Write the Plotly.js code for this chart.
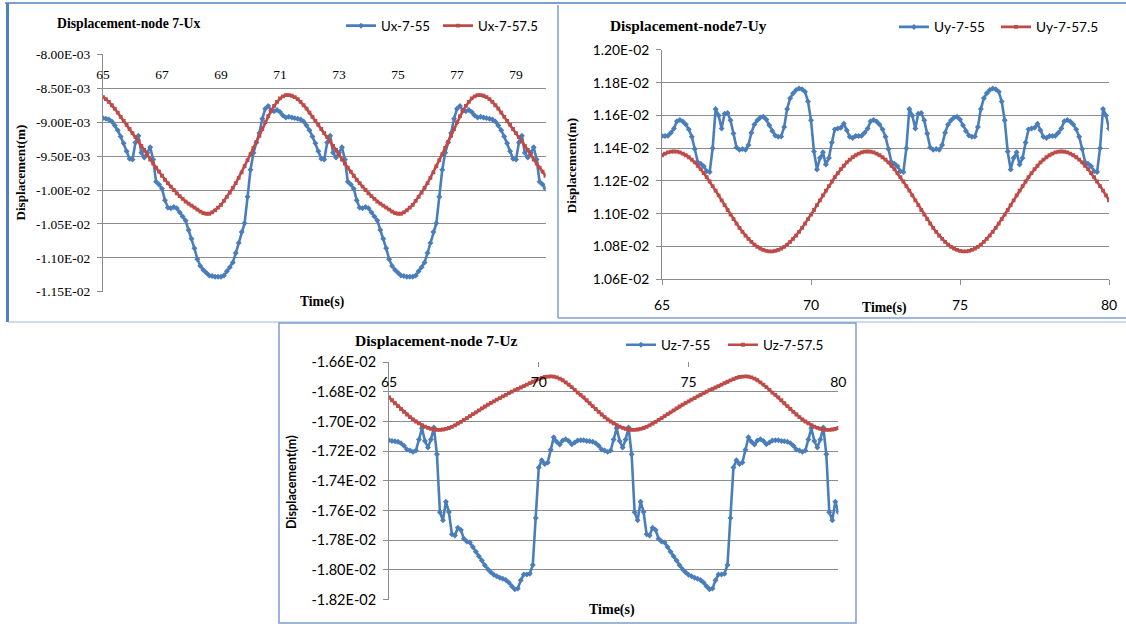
<!DOCTYPE html>
<html>
<head>
<meta charset="utf-8">
<script src="https://cdn.plot.ly/plotly-3.0.1.min.js"></script>
<style>html,body{margin:0;padding:0;background:#fff;}#chart{width:1126px;height:628px;}</style>
</head>
<body>
<div id="chart"></div>
<script>
// ---------------- DATA ----------------
const time = [65.0,65.1,65.2,65.3,65.4,65.5,65.6,65.7,65.8,65.9,66.0,66.1,66.2,66.3,66.4,66.5,66.6,66.7,66.8,66.9,67.0,67.1,67.2,67.3,67.4,67.5,67.6,67.7,67.8,67.9,68.0,68.1,68.2,68.3,68.4,68.5,68.6,68.7,68.8,68.9,69.0,69.1,69.2,69.3,69.4,69.5,69.6,69.7,69.8,69.9,70.0,70.1,70.2,70.3,70.4,70.5,70.6,70.7,70.8,70.9,71.0,71.1,71.2,71.3,71.4,71.5,71.6,71.7,71.8,71.9,72.0,72.1,72.2,72.3,72.4,72.5,72.6,72.7,72.8,72.9,73.0,73.1,73.2,73.3,73.4,73.5,73.6,73.7,73.8,73.9,74.0,74.1,74.2,74.3,74.4,74.5,74.6,74.7,74.8,74.9,75.0,75.1,75.2,75.3,75.4,75.5,75.6,75.7,75.8,75.9,76.0,76.1,76.2,76.3,76.4,76.5,76.6,76.7,76.8,76.9,77.0,77.1,77.2,77.3,77.4,77.5,77.6,77.7,77.8,77.9,78.0,78.1,78.2,78.3,78.4,78.5,78.6,78.7,78.8,78.9,79.0,79.1,79.2,79.3,79.4,79.5,79.6,79.7,79.8,79.9,80.0];

// Ux (units of 1e-3 m)
const ux55 = [-8.94,-8.95,-8.96,-8.99,-9.05,-9.12,-9.21,-9.31,-9.43,-9.54,-9.55,-9.30,-9.20,-9.45,-9.52,-9.45,-9.37,-9.55,-9.88,-9.92,-9.98,-10.15,-10.26,-10.27,-10.25,-10.27,-10.33,-10.39,-10.45,-10.59,-10.72,-10.86,-11.02,-11.12,-11.18,-11.22,-11.26,-11.27,-11.28,-11.28,-11.28,-11.26,-11.20,-11.14,-11.07,-10.93,-10.78,-10.62,-10.49,-10.10,-9.70,-9.45,-9.30,-9.16,-8.95,-8.80,-8.76,-8.83,-8.84,-8.82,-8.85,-8.90,-8.93,-8.92,-8.93,
-8.94,-8.95,-8.96,-8.99,-9.05,-9.12,-9.21,-9.31,-9.43,-9.54,-9.55,-9.30,-9.20,-9.45,-9.52,-9.45,-9.37,-9.55,-9.88,-9.92,-9.98,-10.15,-10.26,-10.27,-10.25,-10.27,-10.33,-10.39,-10.45,-10.59,-10.72,-10.86,-11.02,-11.12,-11.18,-11.22,-11.26,-11.27,-11.28,-11.28,-11.28,-11.26,-11.20,-11.14,-11.07,-10.93,-10.78,-10.62,-10.49,-10.10,-9.70,-9.45,-9.30,-9.16,-8.95,-8.80,-8.76,-8.83,-8.84,-8.82,-8.85,-8.90,-8.93,-8.92,-8.93,
-8.94,-8.95,-8.96,-8.99,-9.05,-9.12,-9.21,-9.31,-9.43,-9.54,-9.55,-9.30,-9.20,-9.45,-9.52,-9.45,-9.37,-9.55,-9.88,-9.92,-9.98];
const ux575 = [-8.63,-8.66,-8.70,-8.75,-8.80,-8.86,-8.92,-8.98,-9.04,-9.10,-9.16,-9.22,-9.28,-9.35,-9.41,-9.48,-9.55,-9.61,-9.67,-9.73,-9.79,-9.85,-9.90,-9.95,-10.00,-10.05,-10.09,-10.13,-10.17,-10.20,-10.23,-10.26,-10.29,-10.32,-10.34,-10.35,-10.35,-10.33,-10.30,-10.26,-10.22,-10.16,-10.10,-10.04,-9.97,-9.90,-9.82,-9.74,-9.65,-9.56,-9.47,-9.38,-9.29,-9.20,-9.10,-9.00,-8.91,-8.83,-8.76,-8.70,-8.65,-8.62,-8.60,-8.60,-8.61,
-8.63,-8.66,-8.70,-8.75,-8.80,-8.86,-8.92,-8.98,-9.04,-9.10,-9.16,-9.22,-9.28,-9.35,-9.41,-9.48,-9.55,-9.61,-9.67,-9.73,-9.79,-9.85,-9.90,-9.95,-10.00,-10.05,-10.09,-10.13,-10.17,-10.20,-10.23,-10.26,-10.29,-10.32,-10.34,-10.35,-10.35,-10.33,-10.30,-10.26,-10.22,-10.16,-10.10,-10.04,-9.97,-9.90,-9.82,-9.74,-9.65,-9.56,-9.47,-9.38,-9.29,-9.20,-9.10,-9.00,-8.91,-8.83,-8.76,-8.70,-8.65,-8.62,-8.60,-8.60,-8.61,
-8.63,-8.66,-8.70,-8.75,-8.80,-8.86,-8.92,-8.98,-9.04,-9.10,-9.16,-9.22,-9.28,-9.35,-9.41,-9.48,-9.55,-9.61,-9.67,-9.73,-9.79];

// Uy (units of 1e-4 m)
const uy55 = [114.74,114.74,114.76,114.95,115.20,115.65,115.72,115.63,115.45,115.15,114.70,113.95,113.15,113.05,112.90,112.60,112.55,114.00,116.40,116.00,115.20,116.10,116.15,115.70,114.90,114.05,113.90,113.95,113.90,114.20,114.95,115.45,115.70,115.87,115.92,115.75,115.40,115.05,114.78,114.70,114.72,115.30,116.40,117.05,117.35,117.55,117.65,117.60,117.45,116.85,115.70,113.80,112.70,113.40,113.75,113.00,113.40,114.35,115.15,115.20,115.25,115.50,115.10,114.70,114.62,
114.74,114.74,114.76,114.95,115.20,115.65,115.72,115.63,115.45,115.15,114.70,113.95,113.15,113.05,112.90,112.60,112.55,114.00,116.40,116.00,115.20,116.10,116.15,115.70,114.90,114.05,113.90,113.95,113.90,114.20,114.95,115.45,115.70,115.87,115.92,115.75,115.40,115.05,114.78,114.70,114.72,115.30,116.40,117.05,117.35,117.55,117.65,117.60,117.45,116.85,115.70,113.80,112.70,113.40,113.75,113.00,113.40,114.35,115.15,115.20,115.25,115.50,115.10,114.70,114.62,
114.74,114.74,114.76,114.95,115.20,115.65,115.72,115.63,115.45,115.15,114.70,113.95,113.15,113.05,112.90,112.60,112.55,114.00,116.40,116.00,115.20];
const uy575 = [113.57,113.67,113.74,113.79,113.80,113.79,113.74,113.67,113.57,113.45,113.30,113.13,112.93,112.72,112.48,112.23,111.97,111.69,111.41,111.12,110.82,110.53,110.23,109.95,109.67,109.40,109.14,108.90,108.67,108.47,108.28,108.12,107.98,107.87,107.79,107.73,107.70,107.70,107.73,107.79,107.87,107.98,108.12,108.28,108.47,108.67,108.90,109.14,109.40,109.67,109.95,110.23,110.53,110.82,111.12,111.41,111.69,111.97,112.23,112.48,112.72,112.93,113.13,113.30,113.45,
113.57,113.67,113.74,113.79,113.80,113.79,113.74,113.67,113.57,113.45,113.30,113.13,112.93,112.72,112.48,112.23,111.97,111.69,111.41,111.12,110.82,110.53,110.23,109.95,109.67,109.40,109.14,108.90,108.67,108.47,108.28,108.12,107.98,107.87,107.79,107.73,107.70,107.70,107.73,107.79,107.87,107.98,108.12,108.28,108.47,108.67,108.90,109.14,109.40,109.67,109.95,110.23,110.53,110.82,111.12,111.41,111.69,111.97,112.23,112.48,112.72,112.93,113.13,113.30,113.45,
113.57,113.67,113.74,113.79,113.80,113.79,113.74,113.67,113.57,113.45,113.30,113.13,112.93,112.72,112.48,112.23,111.97,111.69,111.41,111.12,110.82];

// Uz (units of 1e-4 m)
const uz55 = [-171.25,-171.30,-171.33,-171.36,-171.45,-171.62,-171.88,-171.95,-172.04,-171.95,-171.20,-170.45,-171.30,-171.75,-171.20,-170.40,-172.20,-176.11,-176.65,-175.40,-176.10,-177.60,-177.68,-177.15,-177.30,-177.90,-178.08,-178.15,-178.45,-178.78,-179.08,-179.36,-179.68,-179.95,-180.15,-180.32,-180.42,-180.52,-180.60,-180.68,-180.85,-181.10,-181.30,-181.25,-180.70,-180.30,-180.30,-180.25,-179.67,-176.50,-173.10,-172.60,-172.85,-172.75,-171.90,-171.05,-171.35,-171.55,-171.28,-171.18,-171.30,-171.52,-171.40,-171.28,-171.25,
-171.25,-171.30,-171.33,-171.36,-171.45,-171.62,-171.88,-171.95,-172.04,-171.95,-171.20,-170.45,-171.30,-171.75,-171.20,-170.40,-172.20,-176.11,-176.65,-175.40,-176.10,-177.60,-177.68,-177.15,-177.30,-177.90,-178.08,-178.15,-178.45,-178.78,-179.08,-179.36,-179.68,-179.95,-180.15,-180.32,-180.42,-180.52,-180.60,-180.68,-180.85,-181.10,-181.30,-181.25,-180.70,-180.30,-180.30,-180.25,-179.67,-176.50,-173.10,-172.60,-172.85,-172.75,-171.90,-171.05,-171.35,-171.55,-171.28,-171.18,-171.30,-171.52,-171.40,-171.28,-171.25,
-171.25,-171.30,-171.33,-171.36,-171.45,-171.62,-171.88,-171.95,-172.04,-171.95,-171.20,-170.45,-171.30,-171.75,-171.20,-170.40,-172.20,-176.11,-176.65,-175.40,-176.10];
const uz575 = [-168.37,-168.56,-168.76,-168.96,-169.15,-169.34,-169.52,-169.69,-169.85,-169.99,-170.12,-170.24,-170.34,-170.42,-170.48,-170.53,-170.55,-170.55,-170.53,-170.49,-170.43,-170.35,-170.25,-170.14,-170.02,-169.89,-169.76,-169.63,-169.50,-169.37,-169.24,-169.11,-168.98,-168.86,-168.74,-168.63,-168.52,-168.41,-168.30,-168.19,-168.08,-167.98,-167.88,-167.79,-167.70,-167.60,-167.50,-167.40,-167.31,-167.22,-167.13,-167.05,-166.99,-166.96,-166.95,-166.97,-167.02,-167.10,-167.21,-167.35,-167.51,-167.68,-167.86,-168.04,-168.20,
-168.37,-168.56,-168.76,-168.96,-169.15,-169.34,-169.52,-169.69,-169.85,-169.99,-170.12,-170.24,-170.34,-170.42,-170.48,-170.53,-170.55,-170.55,-170.53,-170.49,-170.43,-170.35,-170.25,-170.14,-170.02,-169.89,-169.76,-169.63,-169.50,-169.37,-169.24,-169.11,-168.98,-168.86,-168.74,-168.63,-168.52,-168.41,-168.30,-168.19,-168.08,-167.98,-167.88,-167.79,-167.70,-167.60,-167.50,-167.40,-167.31,-167.22,-167.13,-167.05,-166.99,-166.96,-166.95,-166.97,-167.02,-167.10,-167.21,-167.35,-167.51,-167.68,-167.86,-168.04,-168.20,
-168.37,-168.56,-168.76,-168.96,-169.15,-169.34,-169.52,-169.69,-169.85,-169.99,-170.12,-170.24,-170.34,-170.42,-170.48,-170.53,-170.55,-170.55,-170.53,-170.49,-170.43];

// Tick values / labels
const uxTickVals = [-8.0,-8.5,-9.0,-9.5,-10.0,-10.5,-11.0,-11.5];
const uxTickText = ["-8.00E-03","-8.50E-03","-9.00E-03","-9.50E-03","-1.00E-02","-1.05E-02","-1.10E-02","-1.15E-02"];
const uyTickVals = [106,108,110,112,114,116,118,120];
const uyTickText = ["1.06E-02","1.08E-02","1.10E-02","1.12E-02","1.14E-02","1.16E-02","1.18E-02","1.20E-02"];
const uzTickVals = [-166,-168,-170,-172,-174,-176,-178,-180,-182];
const uzTickText = ["-1.66E-02","-1.68E-02","-1.70E-02","-1.72E-02","-1.74E-02","-1.76E-02","-1.78E-02","-1.80E-02","-1.82E-02"];
const uxTimeTicks = [65,67,69,71,73,75,77,79];
const timeTicks5 = [65,70,75,80];
const names = {ux:["Ux-7-55","Ux-7-57.5"], uy:["Uy-7-55","Uy-7-57.5"], uz:["Uz-7-55","Uz-7-57.5"]};

// ---------------- STYLE ----------------
const W = 1126, H = 628;
const px = x => x / W, py = y => 1 - y / H;
const BLUE = '#4a7ebb', RED = '#be4b48', GRID = '#8c8c8c';
const SERIF = 'Liberation Serif, Times New Roman, serif';
const SANS = 'Lato, Carlito, Calibri, sans-serif';

function series(x, y, name, color, sym, xa, ya, leg) {
  return {x: x, y: y, name: name, type: 'scatter', mode: 'lines+markers',
    xaxis: xa, yaxis: ya, legend: leg,
    line: {color: color, width: 2.6},
    marker: {color: color, symbol: sym, size: sym === 'diamond' ? 4.6 : 3.8}};
}
const data = [
  series(time, ux55, names.ux[0], BLUE, 'diamond', 'x', 'y', 'legend'),
  series(time, ux575, names.ux[1], RED, 'square', 'x', 'y', 'legend4'),
  series(time, uy55, names.uy[0], BLUE, 'diamond', 'x2', 'y2', 'legend2'),
  series(time, uy575, names.uy[1], RED, 'square', 'x2', 'y2', 'legend5'),
  series(time, uz55, names.uz[0], BLUE, 'diamond', 'x3', 'y3', 'legend3'),
  series(time, uz575, names.uz[1], RED, 'square', 'x3', 'y3', 'legend6')
];

function yAxis(dom, anchor, rng, vals, txt, font, size) {
  return {domain: dom, anchor: anchor, range: rng, tickmode: 'array', tickvals: vals, ticktext: txt,
    showgrid: true, gridcolor: GRID, gridwidth: 1, zeroline: false,
    showline: true, linecolor: GRID, linewidth: 1, ticks: 'outside', ticklen: 5, tickcolor: GRID,
    ticklabelstandoff: 4,
    tickfont: {family: font, size: size, color: '#000'}, fixedrange: true};
}
function legendBox(x, y, size) {
  return {orientation: 'h', x: px(x), y: py(y), xanchor: 'left', yanchor: 'middle',
    bgcolor: 'rgba(0,0,0,0)', font: {family: SANS, size: size, color: '#000'}, itemclick: false};
}

const layout = {
  width: W, height: H, margin: {l: 0, r: 0, t: 0, b: 0},
  paper_bgcolor: '#fff', plot_bgcolor: 'rgba(0,0,0,0)', showlegend: true,
  xaxis: {domain: [px(103), px(545.5)], anchor: 'y', range: [65, 80], side: 'top',
    tickmode: 'array', tickvals: uxTimeTicks, showgrid: false, zeroline: false, showline: false,
    ticks: '', ticklabelposition: 'inside', ticklabeloverflow: 'allow', ticklabelstandoff: 12,
    tickfont: {family: SERIF, size: 13.5, color: '#000'}, fixedrange: true},
  yaxis: yAxis([py(291.7), py(54.4)], 'x', [-11.5, -8.0], uxTickVals, uxTickText, SERIF, 13.5),
  xaxis2: {domain: [px(662), px(1109)], anchor: 'y2', range: [65, 80],
    tickmode: 'array', tickvals: timeTicks5, showgrid: false, zeroline: false,
    showline: true, linecolor: GRID, ticks: 'outside', ticklen: 5, tickcolor: GRID, ticklabelstandoff: 8,
    tickfont: {family: SANS, size: 14, color: '#000'}, fixedrange: true},
  yaxis2: yAxis([py(279.3), py(49.9)], 'x2', [106, 120], uyTickVals, uyTickText, SANS, 13.8),
  xaxis3: {domain: [px(389), px(838.3)], anchor: 'y3', range: [65, 80], side: 'top',
    tickmode: 'array', tickvals: timeTicks5, showgrid: false, zeroline: false, showline: false,
    ticks: 'inside', ticklen: 5, tickcolor: GRID, ticklabelposition: 'inside', ticklabeloverflow: 'allow',
    ticklabelstandoff: 10,
    tickfont: {family: SANS, size: 14, color: '#000'}, fixedrange: true},
  yaxis3: yAxis([py(599.6), py(362.3)], 'x3', [-182, -166], uzTickVals, uzTickText, SANS, 14.5),
  legend: legendBox(341, 26, 13.3),
  legend4: legendBox(438, 26, 13.3),
  legend2: legendBox(894, 27, 13.7),
  legend5: legendBox(996, 27, 13.7),
  legend3: legendBox(621, 345, 13.5),
  legend6: legendBox(723, 345, 13.5),
  annotations: [
    {text: '<b>Displacement-node 7-Ux</b>', x: px(55), y: py(23), xanchor: 'left', yanchor: 'middle', font: {family: SERIF, size: 13.7, color: '#000'}},
    {text: '<b>Time(s)</b>', x: px(322), y: py(302), xanchor: 'center', yanchor: 'middle', font: {family: SERIF, size: 13.6, color: '#000'}},
    {text: '<b>Displacement(m)</b>', x: px(19.6), y: py(173), xanchor: 'center', yanchor: 'middle', textangle: -90, font: {family: SERIF, size: 13.2, color: '#000'}},
    {text: '<b>Displacement-node7-Uy</b>', x: px(607.8), y: py(25), xanchor: 'left', yanchor: 'middle', font: {family: SERIF, size: 15.3, color: '#000'}},
    {text: '<b>Time(s)</b>', x: px(884.6), y: py(308), xanchor: 'center', yanchor: 'middle', font: {family: SERIF, size: 13.7, color: '#000'}},
    {text: '<b>Displacement(m)</b>', x: px(571.4), y: py(165.8), xanchor: 'center', yanchor: 'middle', textangle: -90, font: {family: SERIF, size: 13.1, color: '#000'}},
    {text: '<b>Displacement-node 7-Uz</b>', x: px(353.4), y: py(340), xanchor: 'left', yanchor: 'middle', font: {family: SERIF, size: 15.6, color: '#000'}},
    {text: '<b>Time(s)</b>', x: px(611.6), y: py(610), xanchor: 'center', yanchor: 'middle', font: {family: SERIF, size: 14, color: '#000'}},
    {text: '<b>Displacement(m)</b>', x: px(291.6), y: py(482.5), xanchor: 'center', yanchor: 'middle', textangle: -90, font: {family: SANS, size: 12.6, color: '#000'}}
  ].map(a => Object.assign({xref: 'paper', yref: 'paper', showarrow: false}, a)),
  shapes: [
    // panel 1 frame
    {type: 'line', x0: px(5), x1: px(1126), y0: py(3), y1: py(3), line: {color: '#4f81bd', width: 1.5}},
    {type: 'line', x0: px(7.5), x1: px(7.5), y0: py(3), y1: py(322), line: {color: '#4f81bd', width: 3}},
    {type: 'line', x0: px(8), x1: px(1126), y0: py(322), y1: py(322), line: {color: '#9fb8da', width: 1}},
    // panel 2 frame
    {type: 'line', x0: px(558), x1: px(558), y0: py(5), y1: py(318), line: {color: '#7f9fcf', width: 1.5}},
    {type: 'line', x0: px(558), x1: px(1126), y0: py(318), y1: py(318), line: {color: '#7f9fcf', width: 1.5}},
    // panel 3 frame
    {type: 'rect', x0: px(279), x1: px(856), y0: py(623), y1: py(323), line: {color: '#7a9fd4', width: 1.5}, fillcolor: 'rgba(0,0,0,0)'}
  ].map(s => Object.assign({xref: 'paper', yref: 'paper'}, s))
};

Plotly.newPlot('chart', data, layout, {displayModeBar: false, staticPlot: true});
</script>
</body>
</html>
